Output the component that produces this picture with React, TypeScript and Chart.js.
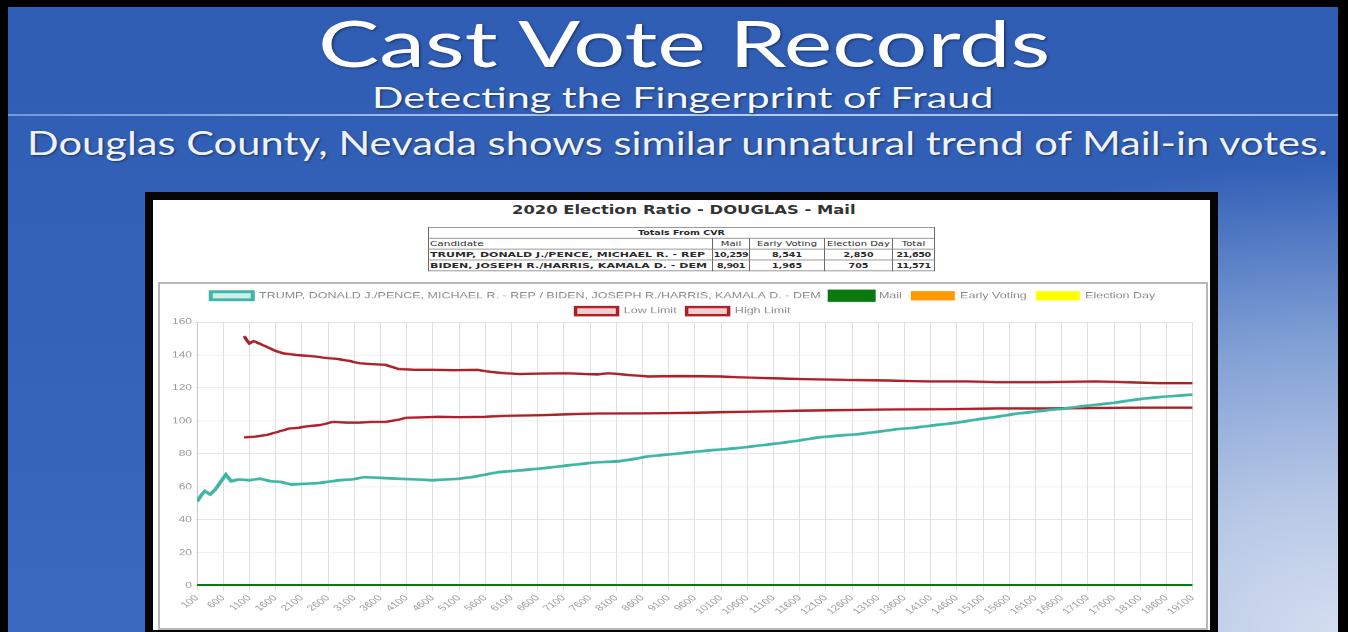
import React, { useEffect, useLayoutEffect, useRef } from 'react';
import { Chart, registerables } from 'chart.js';

Chart.register(...registerables);

// ---------- texts ----------
const SLIDE_TITLE = 'Cast Vote Records';
const SLIDE_SUBTITLE = 'Detecting the Fingerprint of Fraud';
const SLIDE_HEADLINE = 'Douglas County, Nevada shows similar unnatural trend of Mail-in votes.';
const CHART_TITLE = '2020 Election Ratio - DOUGLAS - Mail';

// ---------- totals table ----------
const TABLE_CAPTION = 'Totals From CVR';
const TABLE_HEADERS = ['Candidate', 'Mail', 'Early Voting', 'Election Day', 'Total'];
const CANDIDATES = ['TRUMP, DONALD J./PENCE, MICHAEL R. - REP', 'BIDEN, JOSEPH R./HARRIS, KAMALA D. - DEM'];
const MAIL_TOTALS = ['10,259', '8,901'];
const EARLY_TOTALS = ['8,541', '1,965'];
const ELECTION_DAY_TOTALS = ['2,850', '705'];
const GRAND_TOTALS = ['21,650', '11,571'];

// ---------- series labels ----------
const RATIO_LABEL = 'TRUMP, DONALD J./PENCE, MICHAEL R. - REP / BIDEN, JOSEPH R./HARRIS, KAMALA D. - DEM';
const MAIL_LABEL = 'Mail';
const EARLY_LABEL = 'Early Voting';
const ELECTION_LABEL = 'Election Day';
const LOW_LABEL = 'Low Limit';
const HIGH_LABEL = 'High Limit';

// ---------- x tick labels ----------
const X_TICKS = [100, 600, 1100, 1600, 2100, 2600, 3100, 3600, 4100, 4600, 5100, 5600, 6100, 6600, 7100, 7600, 8100, 8600, 9100, 9600, 10100, 10600, 11100, 11600, 12100, 12600, 13100, 13600, 14100, 14600, 15100, 15600, 16100, 16600, 17100, 17600, 18100, 18600, 19100];

// ---------- series values ----------
const RATIO_X = [100, 180, 250, 350, 450, 550, 650, 750, 900, 1100, 1300, 1500, 1700, 1900, 2200, 2450, 2800, 3050, 3300, 3600, 3950, 4300, 4600, 4850, 5100, 5350, 5600, 5850, 6250, 6600, 6900, 7150, 7450, 7750, 8150, 8450, 8700, 9200, 9650, 10000, 10400, 10800, 11200, 11550, 11950, 12300, 12700, 13100, 13450, 13800, 14200, 14600, 15000, 15350, 15750, 16050, 16300, 16650, 16950, 17300, 17600, 17900, 18200, 18650, 19100];
const RATIO_Y = [51, 55, 57.5, 55.5, 58.5, 63, 67.5, 63.5, 64.5, 64, 65, 63.5, 63, 61.5, 62, 62.5, 64, 64.5, 66, 65.5, 65, 64.5, 64, 64.5, 65, 66, 67.5, 69, 70, 71, 72, 73, 74, 75, 75.6, 77, 78.5, 80, 81.5, 82.5, 83.5, 85, 86.5, 88, 90, 91, 92, 93.5, 95, 96, 97.5, 99, 101, 102.5, 104.5, 105.5, 106.5, 107.5, 108.8, 110, 111, 112.5, 113.7, 115, 116];

const MAIL_X = [100, 19100];
const MAIL_Y = [0, 0];

const LOW_X = [1000, 1200, 1430, 1650, 1870, 2050, 2250, 2450, 2700, 2950, 3200, 3450, 3700, 3900, 4100, 4400, 4700, 5100, 5600, 5900, 6250, 6700, 7150, 7750, 8500, 9650, 10600, 11550, 12500, 13450, 14400, 15350, 16300, 17200, 18100, 19100];
const LOW_Y = [90, 90.5, 91.5, 93.5, 95.5, 96, 97, 97.5, 99.5, 99, 99, 99.5, 99.5, 100.5, 102, 102.3, 102.6, 102.4, 102.6, 103, 103.3, 103.6, 104, 104.5, 104.6, 105, 105.6, 106.3, 106.6, 107, 107.2, 107.6, 107.6, 107.8, 108, 108];

const HIGH_X = [1000, 1050, 1100, 1180, 1250, 1430, 1600, 1750, 2000, 2250, 2500, 2800, 3000, 3200, 3450, 3700, 3950, 4250, 4600, 5000, 5450, 5700, 6000, 6250, 6700, 7150, 7500, 7750, 7950, 8300, 8700, 9300, 10100, 10500, 10950, 11700, 12500, 13300, 14100, 14800, 15350, 16300, 17250, 17800, 18450, 19100];
const HIGH_Y = [151.5, 149, 147, 148.5, 147.5, 145, 142.5, 141, 140, 139.5, 138.5, 137.5, 136.5, 135, 134.5, 134, 131.5, 131, 131, 130.8, 131, 129.8, 129, 128.5, 128.8, 129, 128.5, 128.3, 129, 128, 127, 127.2, 127, 126.5, 126, 125.5, 124.8, 124.5, 124, 124, 123.5, 123.5, 124, 123.5, 123, 123];

const pairs = (xs: number[], ys: number[]) => xs.map((x, i) => ({ x, y: ys[i] }));

// the screenshot is squeezed vertically; reproduce it
const SQUEEZE = 0.68;
const CANVAS_W = 1046;
const CANVAS_H = 344;

type FitProps = {
  text: string;
  left: number;
  top: number;
  width: number;
  fontSize: number;
  fontFamily: string;
  color: string;
  weight?: number;
  shadow?: string;
  scaleY?: number;
};

function FitText({ text, left, top, width, fontSize, fontFamily, color, weight = 400, shadow, scaleY = 1 }: FitProps) {
  const ref = useRef<HTMLSpanElement>(null);
  useLayoutEffect(() => {
    const el = ref.current;
    if (!el) return;
    const w = el.offsetWidth;
    if (w > 0) el.style.transform = `scale(${width / w}, ${scaleY})`;
  }, [text, width, scaleY]);
  return (
    <span
      ref={ref}
      style={{
        position: 'absolute',
        left,
        top,
        fontSize,
        lineHeight: `${fontSize}px`,
        fontFamily,
        fontWeight: weight,
        color,
        whiteSpace: 'nowrap',
        transformOrigin: '0 0',
        textShadow: shadow,
      }}
    >
      {text}
    </span>
  );
}

function RatioChart() {
  const canvasRef = useRef<HTMLCanvasElement>(null);
  useEffect(() => {
    const canvas = canvasRef.current;
    if (!canvas) return;
    const chart = new Chart(canvas, {
      type: 'line',
      data: {
        datasets: [
          {
            label: RATIO_LABEL,
            data: pairs(RATIO_X, RATIO_Y),
            borderColor: '#3eb6a5',
            backgroundColor: '#cdeee8',
            borderWidth: 4,
            pointRadius: 0,
            tension: 0,
          },
          {
            label: MAIL_LABEL,
            data: pairs(MAIL_X, MAIL_Y),
            borderColor: '#0a7a10',
            backgroundColor: '#0a7a10',
            borderWidth: 6,
            pointRadius: 0,
          },
          {
            label: EARLY_LABEL,
            data: [],
            borderColor: '#ff9a00',
            backgroundColor: '#ff9a00',
            borderWidth: 2,
            pointRadius: 0,
          },
          {
            label: ELECTION_LABEL,
            data: [],
            borderColor: '#ffff00',
            backgroundColor: '#ffff00',
            borderWidth: 2,
            pointRadius: 0,
          },
          {
            label: LOW_LABEL,
            data: pairs(LOW_X, LOW_Y),
            borderColor: '#ac2128',
            backgroundColor: '#f7cccc',
            borderWidth: 3.5,
            pointRadius: 0,
            tension: 0,
          },
          {
            label: HIGH_LABEL,
            data: pairs(HIGH_X, HIGH_Y),
            borderColor: '#ac2128',
            backgroundColor: '#f7cccc',
            borderWidth: 3.5,
            pointRadius: 0,
            tension: 0,
          },
        ],
      },
      options: {
        responsive: false,
        animation: false,
        devicePixelRatio: 1,
        layout: { padding: { left: 9, right: 9, top: 1, bottom: 14 } },
        plugins: {
          legend: {
            position: 'top',
            labels: {
              boxWidth: 42,
              boxHeight: 12,
              padding: 10,
              color: '#8c8c8c',
              font: { size: 12.5, family: 'Liberation Sans' },
            },
          },
          title: { display: false },
          tooltip: { enabled: false },
        },
        scales: {
          x: {
            type: 'linear',
            min: 100,
            max: 19100,
            afterBuildTicks: (scale: any) => {
              scale.ticks = X_TICKS.map((v) => ({ value: v }));
            },
            ticks: {
              autoSkip: false,
              maxRotation: 46,
              minRotation: 46,
              color: '#9a9a9a',
              font: { size: 12, family: 'Liberation Sans' },
              callback: (v: any) => String(v),
            },
            grid: { color: '#e0e0e0', tickLength: 8 },
          },
          y: {
            min: 0,
            max: 160,
            ticks: {
              stepSize: 20,
              color: '#9a9a9a',
              font: { size: 12, family: 'Liberation Sans' },
            },
            grid: { color: '#e2e2e2', tickLength: 2 },
          },
        },
      },
    });
    return () => chart.destroy();
  }, []);
  return (
    <canvas
      ref={canvasRef}
      width={CANVAS_W}
      height={Math.round(CANVAS_H / SQUEEZE)}
      style={{ display: 'block', width: CANVAS_W, height: CANVAS_H }}
    />
  );
}

const cell: React.CSSProperties = {
  border: '1px solid #6a6a6a',
  padding: '0 1px',
  height: 15,
  lineHeight: '15px',
  whiteSpace: 'nowrap',
  overflow: 'hidden',
  fontWeight: 700,
};

function TotalsTable() {
  const colWidths = [284, 37, 75, 68, 42];
  return (
    <div
      style={{
        position: 'absolute',
        left: 428,
        top: 227,
        transform: `scaleY(${SQUEEZE})`,
        transformOrigin: '0 0',
      }}
    >
      <table
        style={{
          borderCollapse: 'collapse',
          tableLayout: 'fixed',
          width: colWidths.reduce((a, b) => a + b, 0),
          fontFamily: 'DejaVu Sans',
          fontSize: 10,
          color: '#2a2a2a',
          background: '#fff',
          border: '1.5px solid #444',
        }}
      >
        <colgroup>
          {colWidths.map((w, i) => (
            <col key={i} style={{ width: w }} />
          ))}
        </colgroup>
        <tbody>
          <tr>
            <td colSpan={5} style={{ ...cell, textAlign: 'center', fontSize: 9.5 }}>
              {TABLE_CAPTION}
            </td>
          </tr>
          <tr>
            {TABLE_HEADERS.map((h, i) => (
              <td key={h} style={{ ...cell, textAlign: i === 0 ? 'left' : 'center', fontSize: i === 0 ? 10.5 : 10, fontWeight: 400 }}>
                {h}
              </td>
            ))}
          </tr>
          {CANDIDATES.map((c, r) => (
            <tr key={c}>
              <td style={{ ...cell, textAlign: 'left', fontSize: 11 }}>{c}</td>
              <td style={{ ...cell, textAlign: 'center', padding: 0, fontSize: 9.5, letterSpacing: -0.4 }}>{MAIL_TOTALS[r]}</td>
              <td style={{ ...cell, textAlign: 'center', fontSize: 9.5 }}>{EARLY_TOTALS[r]}</td>
              <td style={{ ...cell, textAlign: 'center', fontSize: 9.5 }}>{ELECTION_DAY_TOTALS[r]}</td>
              <td style={{ ...cell, textAlign: 'center', padding: 0, fontSize: 9.5, letterSpacing: -0.4 }}>{GRAND_TOTALS[r]}</td>
            </tr>
          ))}
        </tbody>
      </table>
    </div>
  );
}

export default function App() {
  const slideFont = 'Lato, "Open Sans", sans-serif';
  const shadow = '1px 1px 2px rgba(0,0,0,0.45)';
  return (
    <div
      style={{
        position: 'fixed',
        left: 0,
        top: 0,
        width: 1348,
        height: 632,
        overflow: 'hidden',
        background: '#000',
      }}
    >
      {/* slide background */}
      <div
        style={{
          position: 'absolute',
          left: 8,
          top: 7,
          width: 1330,
          height: 625,
          background:
            'radial-gradient(ellipse 70% 100% at 100% 100%, #d4def0 0%, #b6c7e6 22%, #84a2d6 45%, rgba(70,112,195,0) 75%), linear-gradient(180deg, #2f5db4 0%, #3462b9 50%, #3b69bf 100%)',
        }}
      />
      {/* thin separator line */}
      <div
        style={{
          position: 'absolute',
          left: 8,
          top: 114,
          width: 1330,
          height: 2,
          background: 'linear-gradient(90deg, rgba(170,200,240,0.55), rgba(210,228,250,0.85) 50%, rgba(190,212,245,0.7))',
        }}
      />
      <FitText text={SLIDE_TITLE} left={318} top={11} width={732} fontSize={64} fontFamily={slideFont} color="#ffffff" shadow={shadow} />
      <FitText text={SLIDE_SUBTITLE} left={372} top={83} width={622} fontSize={28} fontFamily={slideFont} color="#f4f7fc" shadow={shadow} />
      <FitText text={SLIDE_HEADLINE} left={27} top={127} width={1301} fontSize={32} fontFamily={slideFont} color="#eef2fa" shadow={shadow} />

      {/* chart frame */}
      <div
        style={{
          position: 'absolute',
          left: 145,
          top: 192,
          width: 1073,
          height: 440,
          background: '#050505',
        }}
      >
        <div
          style={{
            position: 'absolute',
            left: 8,
            top: 8,
            width: 1057,
            height: 430,
            background: '#ffffff',
          }}
        />
      </div>
      <FitText
        text={CHART_TITLE}
        left={512}
        top={204}
        width={344}
        fontSize={17}
        fontFamily='"DejaVu Sans"'
        color="#333333"
        weight={700}
        scaleY={SQUEEZE}
      />
      <TotalsTable />
      {/* chart panel */}
      <div
        style={{
          position: 'absolute',
          left: 158,
          top: 282,
          width: CANVAS_W,
          height: CANVAS_H,
          border: '2px solid #b8b8b8',
          background: '#fff',
        }}
      >
        <RatioChart />
      </div>
    </div>
  );
}
